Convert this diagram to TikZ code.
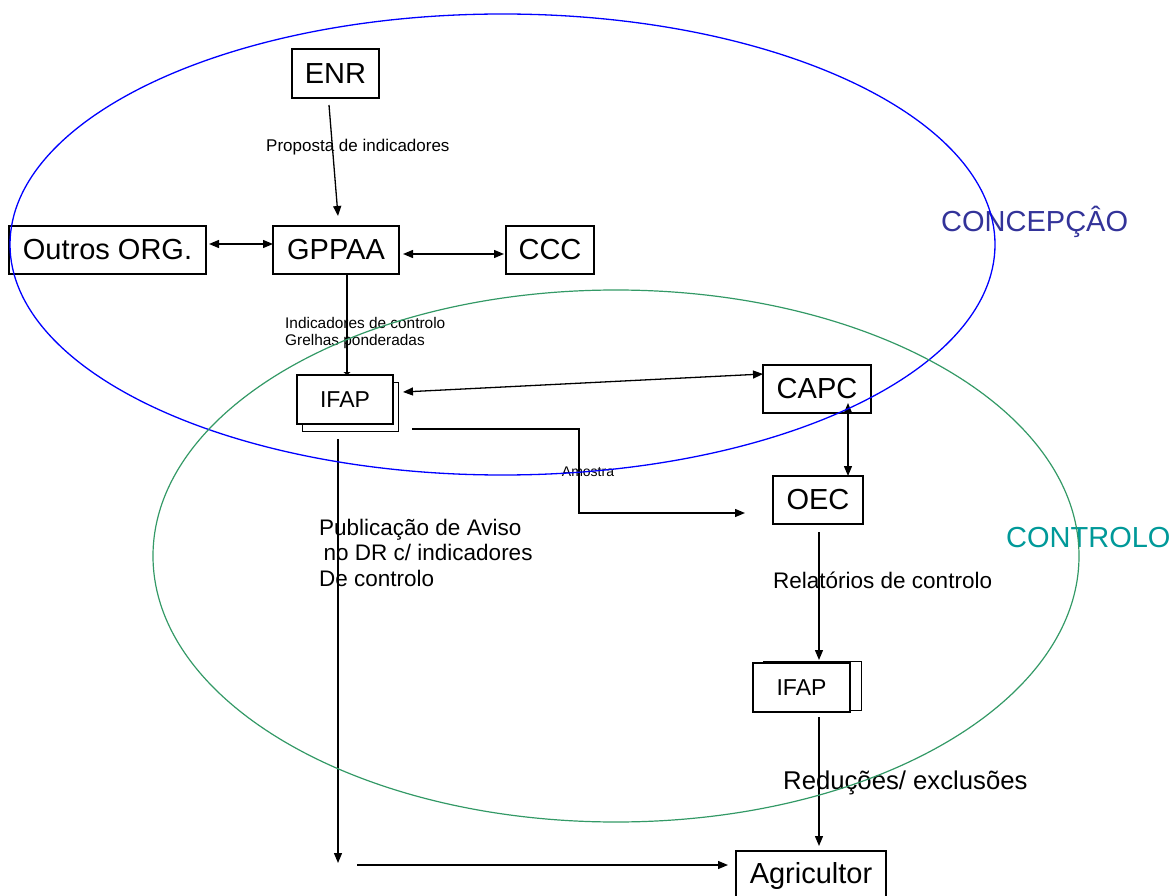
\documentclass[tikz,border=0pt]{standalone}
\usepackage{fontspec}
\setmainfont{Liberation Sans}
\usetikzlibrary{arrows.meta,calc}
\definecolor{concblue}{RGB}{51,51,153}
\definecolor{ctrlteal}{RGB}{0,153,153}
\definecolor{ellgreen}{RGB}{51,153,102}
\begin{document}
\begin{tikzpicture}[x=1pt,y=-1pt,
  box/.style={draw=black, line width=1.2pt, inner sep=0pt, font=\fontsize{29}{34}\selectfont},
  ifapbox/.style={draw=black, line width=1.8pt, fill=white, inner sep=0pt, minimum width=96pt, minimum height=49pt, font=\fontsize{23}{27}\selectfont},
  backbox/.style={draw=black, line width=0.9pt, inner sep=0pt, minimum width=96pt, minimum height=49pt},
  conn/.style={line width=1.3pt, draw=black},
  arr/.style={conn, -{Triangle[length=10pt,width=8pt]}},
  darr/.style={conn, {Triangle[length=10pt,width=8pt]}-{Triangle[length=10pt,width=8pt]}},
  tinyarr/.style={conn, -{Triangle[length=3pt,width=7pt]}},
  lbl/.style={inner sep=0pt, anchor=west, align=left}
]
\useasboundingbox (0,0) rectangle (1176,896);
\clip (0,0) rectangle (1176,896);

% boxes
\node[box, minimum width=87pt, minimum height=49pt] (enr) at (335.5,73.5) {ENR};
\node[box, minimum width=126pt, minimum height=48pt] (gppaa) at (336,250) {GPPAA};
\node[box, minimum width=197pt, minimum height=48pt] (outros) at (107.5,250) {Outros ORG.};
\node[box, minimum width=88pt, minimum height=48pt] (ccc) at (550,250) {CCC};
\node[backbox] (ifapAback) at (350,406.5) {};
\node[ifapbox] (ifapA) at (345,399.5) {IFAP};
\node[box, minimum width=108pt, minimum height=48pt] (capc) at (817,389) {CAPC};
\node[box, minimum width=90pt, minimum height=48pt] (oec) at (818,500) {OEC};
\node[backbox, minimum width=98pt] (ifapBback) at (812,685.5) {};
\node[ifapbox, minimum width=97pt] (ifapB) at (801.5,687.5) {IFAP};
\node[box, minimum width=150pt, minimum height=49pt] (agri) at (811,875.5) {Agricultor};

% connector coordinates
\coordinate (enrOut) at (329,105);
\coordinate (gppIn) at (338,216);
\coordinate (gppDown) at (347,275);
\coordinate (ifapATop) at (347,375);
\coordinate (outR) at (209,244);
\coordinate (gppL) at (273,244);
\coordinate (gppR) at (403,254);
\coordinate (cccL) at (504,254);
\coordinate (ifapAR) at (403,392);
\coordinate (capcL) at (763,374);
\coordinate (capcB) at (848,403);
\coordinate (oecT) at (848,476);
\coordinate (amS) at (412,429);
\coordinate (amC1) at (579,429);
\coordinate (amC2) at (579,513);
\coordinate (amE) at (745,513);
\coordinate (pubS) at (338,439);
\coordinate (pubE) at (338,863);
\coordinate (hS) at (357,865);
\coordinate (hE) at (728,865);
\coordinate (oecOut) at (819,532);
\coordinate (ifapBIn) at (819,660);
\coordinate (ifapBOut) at (819,717);
\coordinate (agriIn) at (819,846);

% connectors
\draw[arr] (enrOut) -- (gppIn);
\draw[tinyarr] (gppDown) -- (ifapATop);
\draw[darr] (outR) -- (gppL);
\draw[darr] (gppR) -- (cccL);
\draw[darr] (ifapAR) -- (capcL);
\draw[darr] (capcB) -- (oecT);
\draw[arr] (amS) -- (amC1) -- (amC2) -- (amE);
\draw[arr] (pubS) -- (pubE);
\draw[arr] (hS) -- (hE);
\draw[arr] (oecOut) -- (ifapBIn);
\draw[arr] (ifapBOut) -- (agriIn);

% labels
\node[lbl, font=\fontsize{17}{20}\selectfont] (lprop) at (266,147) {Proposta de indicadores};
\node[lbl, font=\fontsize{15.4}{17}\selectfont] (lind) at (285,333.5) {Indicadores de controlo\\Grelhas ponderadas};
\node[inner sep=0pt, font=\fontsize{14}{16}\selectfont] (lam) at (588,472) {Amostra};
\node[lbl, font=\fontsize{22.5}{25.5}\selectfont] (lpub) at (319,552.5) {Publicação de Aviso\\\hspace*{0.2em}no DR c/ indicadores\\De controlo};
\node[lbl, font=\fontsize{22.5}{26}\selectfont] (lrel) at (773,580) {Relatórios de controlo};
\node[lbl, font=\fontsize{25.7}{30}\selectfont] (lred) at (783,783) {Reduções/ exclusões};
\node[lbl, font=\fontsize{29}{34}\selectfont, text=concblue] (lconc) at (941,222) {CONCEPÇÂO};
\node[lbl, font=\fontsize{29}{34}\selectfont, text=ctrlteal] (lctrl) at (1006,538) {CONTROLO};

% ellipses
\draw[blue, line width=1.3pt] (502.5,244.5) ellipse [x radius=492.5, y radius=230.5];
\draw[ellgreen, line width=1.2pt] (616,556) ellipse [x radius=463, y radius=266];
\end{tikzpicture}
\end{document}
